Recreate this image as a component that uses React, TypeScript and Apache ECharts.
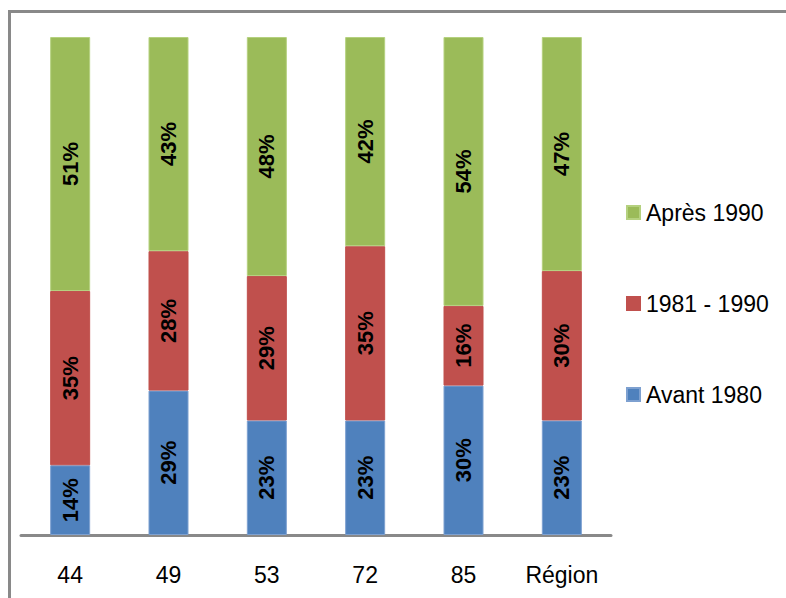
import React, { useEffect, useRef } from "react";
import * as echarts from "echarts";

const categories = ["44", "49", "53", "72", "85", "Région"];
const avant1980 = [14, 29, 23, 23, 30, 23];
const de1981a1990 = [35, 28, 29, 35, 16, 30];
const apres1990 = [51, 43, 48, 42, 54, 47];
const seriesNames = ["Avant 1980", "1981 - 1990", "Après 1990"];
const legendOrder = ["Après 1990", "1981 - 1990", "Avant 1980"];

const FONT = "'Liberation Sans', Arial, Helvetica, sans-serif";

export default function App() {
  const ref = useRef<HTMLDivElement>(null);
  useEffect(() => {
    if (!ref.current) return;
    const chart = echarts.init(ref.current, undefined, { renderer: "svg" });
    const label = {
      show: true,
      position: "inside",
      rotate: 90,
      color: "#000",
      fontWeight: "bold",
      fontSize: 22,
      fontFamily: FONT,
      formatter: (p: any) => p.value + "%",
    };
    const mk = (name: string, data: number[], color: string, border: string) => ({
      name,
      type: "bar",
      stack: "total",
      barWidth: 40,
      data,
      itemStyle: { color, borderColor: border, borderWidth: 1 },
      label,
    });
    chart.setOption({
      animation: false,
      textStyle: { fontFamily: FONT },
      graphic: [
        {
          type: "rect",
          shape: { x: 9.5, y: 11.5, width: 900, height: 700 },
          style: { fill: "none", stroke: "#898989", lineWidth: 3 },
          silent: true,
          z: -1,
        },
      ],
      grid: { left: 21, right: 175, top: 37, bottom: 63, containLabel: false },
      legend: {
        orient: "vertical",
        left: 621,
        top: 196,
        itemWidth: 13,
        itemHeight: 13,
        itemGap: 68,
        icon: "rect",
        data: legendOrder,
        textStyle: { fontSize: 23, color: "#000", fontFamily: FONT, padding: [0, 0, 0, 1] },
      },
      xAxis: {
        type: "category",
        data: categories,
        axisLine: { lineStyle: { color: "#898989", width: 3 } },
        axisTick: { show: false },
        axisLabel: { color: "#000", fontSize: 23, margin: 28, fontFamily: FONT },
      },
      yAxis: {
        type: "value",
        min: 0,
        max: 100,
        show: false,
        splitLine: { show: false },
      },
      series: [
        mk(seriesNames[0], avant1980, "#4F81BD", "#7da0d0"),
        mk(seriesNames[1], de1981a1990, "#C0504D", "#c0504d"),
        mk(seriesNames[2], apres1990, "#9BBB59", "#b5d17f"),
      ],
    });
    return () => chart.dispose();
  }, []);
  return (
    <div
      ref={ref}
      style={{ position: "fixed", left: 0, top: 0, width: 786, height: 598, background: "#fff" }}
    />
  );
}
